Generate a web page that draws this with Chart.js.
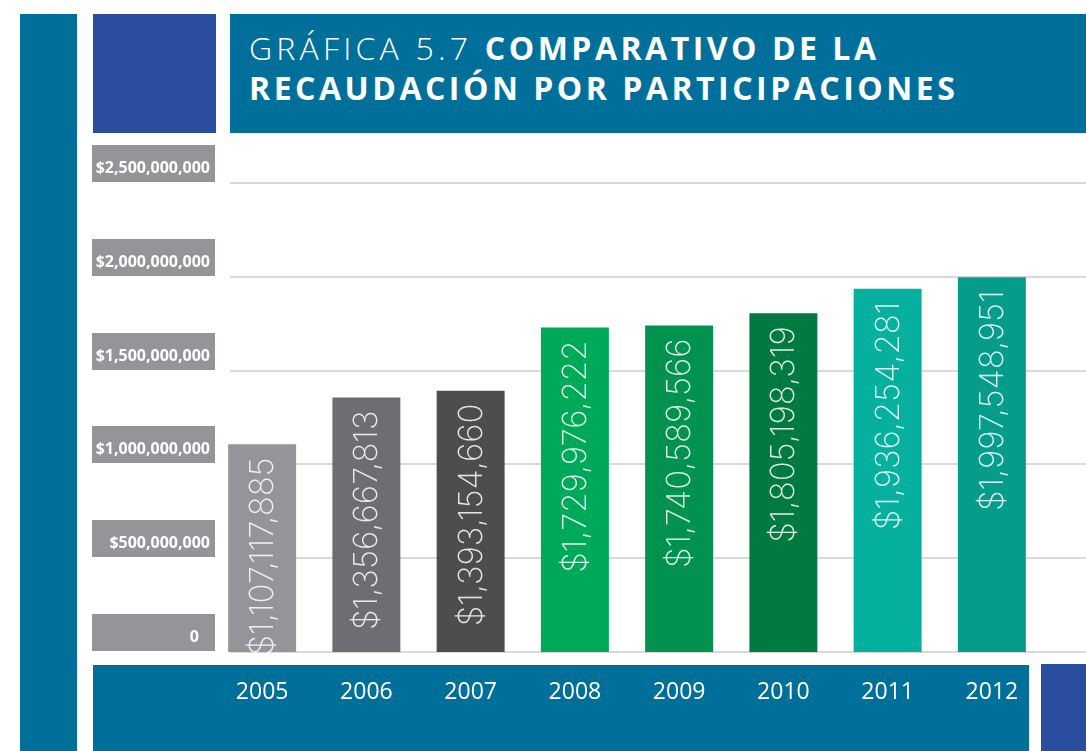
<!DOCTYPE html>
<html lang="es">
<head>
<meta charset="utf-8">
<title>Gráfica 5.7 Comparativo de la recaudación por participaciones</title>
<script src="https://cdn.jsdelivr.net/npm/chart.js@4"></script>
<style>
  html, body { margin: 0; padding: 0; }
  body { width: 1086px; height: 751px; position: relative; overflow: hidden; background: #fff; }
  .blk { position: absolute; }
  .teal { background: #00709b; }
  .blue { background: #2a4d9f; }
  .title {
    left: 230px; top: 14px; width: 856px; height: 119px;
    color: #fff; font-family: 'Open Sans', sans-serif; font-size: 32px; line-height: 40px;
    letter-spacing: 3.5px; box-sizing: border-box; padding: 14px 0 0 19px; white-space: nowrap;
  }
  .title .light { font-weight: 300; letter-spacing: 4.2px; }
  .title b { font-weight: 700; }
  #wrap { position: absolute; left: 0; top: 0; width: 1086px; height: 751px; }
</style>
</head>
<body>
<div class="blk teal" style="left:20px;top:14px;width:57px;height:737px"></div>
<div class="blk blue" style="left:93px;top:14px;width:123px;height:119px"></div>
<div class="blk teal title"><span class="light">GRÁFICA 5.7 </span><b>COMPARATIVO DE LA</b><br><b>RECAUDACIÓN POR PARTICIPACIONES</b></div>
<div class="blk teal" style="left:93px;top:665px;width:936px;height:86px"></div>
<div class="blk blue" style="left:1041px;top:664px;width:45px;height:87px"></div>
<div id="wrap"><canvas id="chart"></canvas></div>

<script>
// Recaudación anual por participaciones (pesos)
const years = ['2005', '2006', '2007', '2008', '2009', '2010', '2011', '2012'];
const amounts = [1107117885, 1356667813, 1393154660, 1729976222, 1740589566, 1805198319, 1936254281, 1997548951];
const barColors = ['#939598', '#6d6e71', '#4d4d4f', '#00a85a', '#00924e', '#007a40', '#06b09e', '#069c8c'];
const yTicks = [0, 500000000, 1000000000, 1500000000, 2000000000, 2500000000];
const yTickLabels = ['0', '$500,000,000', '$1,000,000,000', '$1,500,000,000', '$2,000,000,000', '$2,500,000,000'];

const fmt = v => '$' + v.toLocaleString('en-US');

// líneas guía y etiquetas del eje en recuadros grises
const axisBoxes = {
  id: 'axisBoxes',
  beforeDatasetsDraw(chart) {
    const { ctx, scales: { y } } = chart;
    ctx.save();
    yTicks.forEach((t, i) => {
      const py = Math.round(y.getPixelForValue(t));
      ctx.fillStyle = '#d9d9da';
      ctx.fillRect(230, py - 1, chart.width - 230, 2);
      ctx.fillStyle = '#939598';
      ctx.fillRect(92, py - 38, 123, 37);
      ctx.fillStyle = '#fff';
      ctx.font = "bold 16px 'Open Sans', sans-serif";
      ctx.textAlign = 'right';
      ctx.textBaseline = 'alphabetic';
      ctx.fillText(yTickLabels[i], t === 0 ? 199 : 210, py - 10);
    });
    ctx.restore();
  },
};

// montos verticales dentro de cada barra
const barValues = {
  id: 'barValues',
  afterDatasetsDraw(chart) {
    const { ctx } = chart;
    const meta = chart.getDatasetMeta(0);
    ctx.save();
    ctx.font = "150 33px Inter, sans-serif";
    ctx.fillStyle = 'rgba(255,255,255,0.85)';
    ctx.textAlign = 'right';
    ctx.textBaseline = 'middle';
    meta.data.forEach((bar, i) => {
      ctx.save();
      ctx.translate(bar.x, bar.y + 13);
      ctx.rotate(-Math.PI / 2);
      ctx.fillText(fmt(amounts[i]), 0, 1);
      ctx.restore();
    });
    ctx.restore();
  },
};

new Chart(document.getElementById('chart'), {
  type: 'bar',
  data: {
    labels: years,
    datasets: [{
      data: amounts,
      backgroundColor: barColors,
      borderWidth: 0,
      categoryPercentage: 1,
      barPercentage: 0.652,
    }],
  },
  options: {
    responsive: true,
    maintainAspectRatio: false,
    animation: false,
    layout: { padding: { left: 210, right: 42, top: 183, bottom: 0 } },
    plugins: { legend: { display: false }, tooltip: { enabled: false } },
    scales: {
      x: {
        grid: { display: false, drawTicks: false },
        border: { display: false },
        ticks: { color: '#fff', padding: 27, font: { family: "'Open Sans', sans-serif", size: 23 } },
        afterFit: s => { s.height = 99; },
      },
      y: {
        min: 0,
        max: 2500000000,
        grid: { display: false, drawTicks: false },
        border: { display: false },
        ticks: { display: false, stepSize: 500000000 },
        afterFit: s => { s.width = 0; },
      },
    },
  },
  plugins: [axisBoxes, barValues],
});
</script>
</body>
</html>
